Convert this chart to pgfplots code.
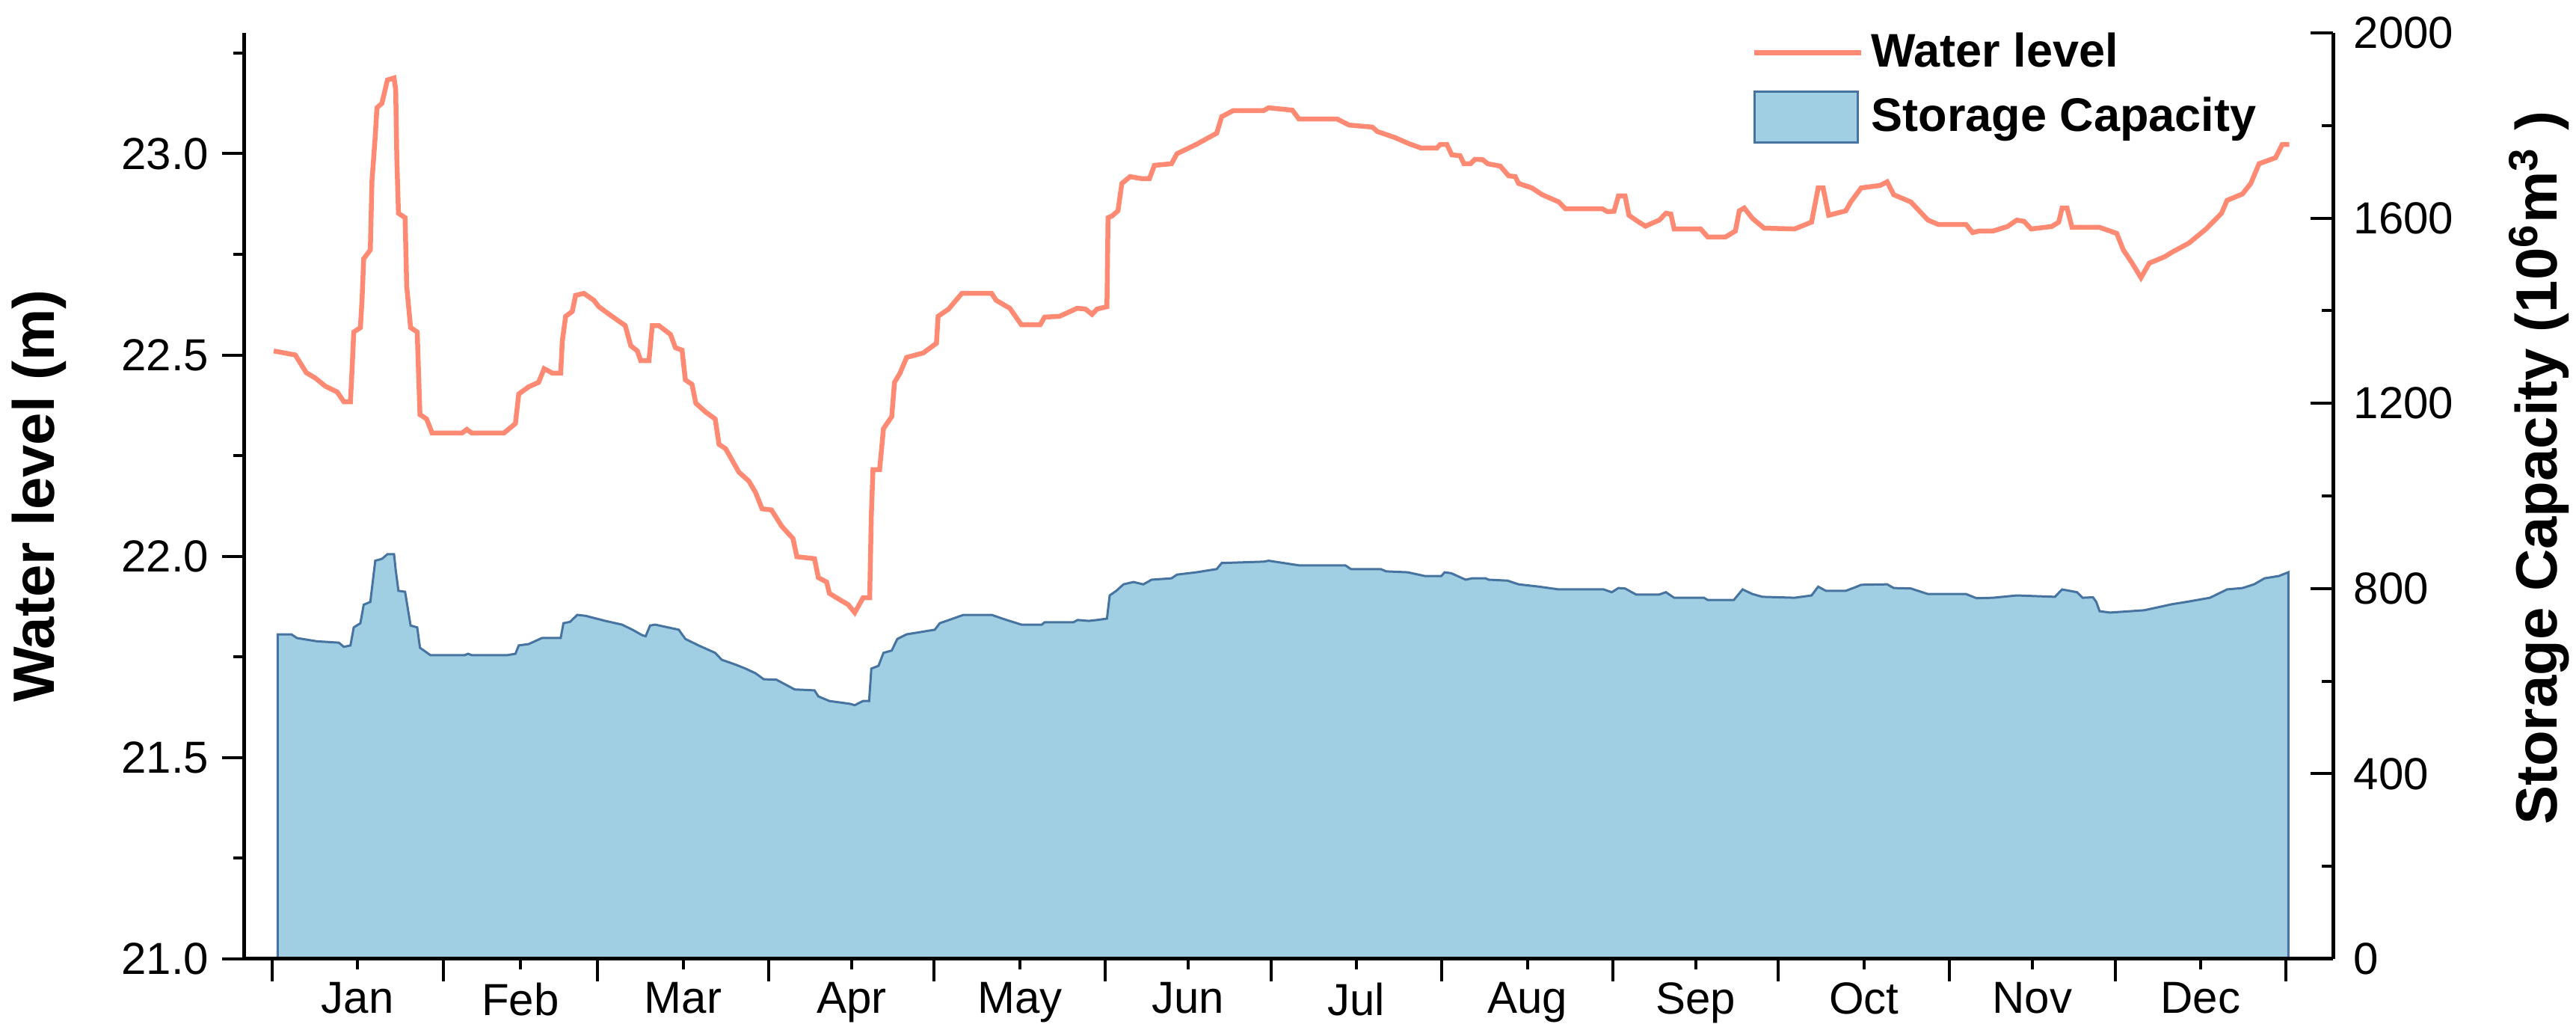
\documentclass[border=0pt]{standalone}
\usepackage{fontspec}
\setmainfont{Liberation Sans}
\usepackage{pgfplots}
\pgfplotsset{compat=1.18}
\definecolor{wl}{RGB}{255,138,115}
\definecolor{scfill}{RGB}{160,206,226}
\definecolor{scline}{RGB}{70,115,160}
\pgfplotsset{
  wllegend/.style={legend image code/.code={\draw[##1] (0pt,0pt) -- (28.6pt,0pt);}},
  sclegend/.style={legend image code/.code={\draw[##1] (0pt,-6.8pt) rectangle (27.6pt,6.8pt);}},
}
\begin{document}
\begin{tikzpicture}
\begin{axis}[
  name=ax1,
  scale only axis, width=558.6pt, height=247.6pt,
  xmin=-5, xmax=373.5, ymin=0, ymax=2000,
  axis x line=none, axis y line*=right,
  ytick={0,400,...,2000}, minor ytick={200,600,...,1800},
  tick align=inside,
  major tick length=6pt, minor tick length=3pt,
  every tick/.style={black, line width=0.8pt},
  axis line style={line width=1pt},
  yticklabel style={font=\fontsize{12}{14}\selectfont, /pgf/number format/assume math mode=true, /pgf/number format/1000 sep={}, xshift=2pt},
  ylabel={\textbf{Storage Capacity (10\textsuperscript{6}m\textsuperscript{3} )}},
  ylabel style={font=\fontsize{15.6}{18}\selectfont, at={(axis description cs:1.0988,0.53)}, anchor=center},
]
\addplot[draw=scline, fill=scfill, line width=0.6pt] coordinates {
(1.0,0) (1.0,701) (3.5,701) (4.5,693) (8.1,686) (12.1,683) (13.0,674) (14.2,677) (14.8,716) (16.0,725) (16.6,765) (17.8,771) (18.7,860) (19.9,864) (20.9,874) (22.1,874) (22.4,840) (22.9,795) (24.1,793) (25.1,720) (26.3,716) (26.8,672) (28.7,656) (34.9,656) (35.5,659) (36.2,656) (42.6,656) (44.1,659) (44.7,677) (46.5,680) (48.9,693) (52.3,693) (52.8,725) (54.0,728) (55.3,743) (56.8,741) (60.4,730) (63.4,722) (65.3,711) (67.1,699) (67.7,697) (68.5,720) (69.4,722) (73.7,711) (74.9,691) (77.3,677) (80.3,661) (81.5,646) (83.9,636) (85.8,627) (87.6,617) (89.1,604) (91.4,603) (94.7,582) (98.3,580) (99.0,567) (101.0,557) (104.7,551) (105.6,548) (107.1,557) (108.2,557) (108.6,627) (109.9,633) (110.8,661) (112.3,666) (113.3,691) (115.0,701) (120.1,711) (121.0,725) (123.4,735) (125.3,743) (130.4,743) (133.1,732) (135.8,722) (139.5,722) (140.0,727) (145.2,727) (146.0,732) (148.0,730) (149.5,732) (151.3,735) (151.8,785) (153.0,795) (154.3,809) (156.1,814) (157.9,809) (159.4,819) (163.0,822) (164.0,830) (167.5,835) (171.2,842) (172.1,855) (179.7,858) (180.6,860) (186.1,850) (194.5,850) (195.5,842) (200.9,842) (201.9,837) (205.8,835) (208.9,827) (211.9,827) (212.5,835) (213.7,833) (216.3,819) (217.5,822) (219.9,822) (220.5,819) (223.9,817) (225.9,809) (229.6,804) (233.2,798) (241.3,798) (242.8,792) (244.0,801) (245.2,800) (247.2,787) (251.4,787) (252.6,792) (254.1,780) (259.5,780) (260.2,775) (264.9,775) (266.5,798) (268.3,788) (270.1,782) (275.9,780) (279.0,785) (280.2,804) (281.6,795) (285.2,795) (287.2,804) (288.0,808) (292.7,809) (293.9,801) (297.0,800) (300.1,788) (307.0,788) (308.9,779) (311.9,780) (316.2,785) (323.1,782) (324.4,798) (327.1,792) (328.1,780) (330.0,781) (330.6,771) (331.2,751) (333.1,748) (339.3,753) (344.3,766) (347.4,772) (351.2,780) (354.3,798) (357.1,801) (359.2,809) (361.1,822) (363.7,827) (365.4,835) (365.4,0)
} -- cycle;
\end{axis}
\begin{axis}[
  name=ax,
  scale only axis, width=558.6pt, height=247.6pt,
  xmin=-5, xmax=373.5, ymin=21, ymax=23.3,
  axis x line*=bottom, axis y line*=left,
  tick align=outside,
  major tick length=6pt, minor tick length=3pt,
  every tick/.style={black, line width=0.8pt},
  axis line style={line width=1pt},
  xtick={0,31,59,90,120,151,181,212,243,273,304,334,365},
  xticklabels={},
  extra x ticks={15.5,45,74.5,105,135.5,166,196.5,227.5,258,288.5,319,349.5},
  extra x tick labels={Jan,Feb,Mar,Apr,May,Jun,Jul,Aug,Sep,Oct,Nov,Dec},
  extra x tick style={major tick length=2.8pt},
  ytick={21,21.5,...,23}, minor ytick={21.25,21.75,...,23.25},
  tick label style={font=\fontsize{12}{14}\selectfont},
  yticklabel style={/pgf/number format/assume math mode=true, /pgf/number format/fixed, /pgf/number format/fixed zerofill, /pgf/number format/precision=1},
  ylabel={\textbf{Water level (m)}},
  ylabel style={font=\fontsize{15.6}{18}\selectfont, at={(axis description cs:-0.0985,0.5)}, anchor=center},
  legend style={at={(axis description cs:0.7215,1.0)}, anchor=north west, yshift=2.2pt, draw=none, fill=none, inner sep=0pt, font=\bfseries\fontsize{12.6}{15}\selectfont, row sep=2.5pt},
  legend cell align=left,
]
\addplot[color=wl, line width=1.3pt, wllegend] coordinates {
(0.3,22.51) (4.2,22.50) (6.2,22.456) (7.8,22.443) (9.6,22.423) (11.8,22.408) (13.0,22.384) (14.2,22.384) (14.5,22.466) (14.8,22.557) (16.0,22.568) (16.3,22.636) (16.6,22.739) (17.8,22.761) (18.1,22.932) (18.7,23.045) (19.0,23.114) (19.9,23.125) (20.9,23.183) (22.1,23.188) (22.4,23.159) (22.6,22.99) (22.9,22.852) (24.1,22.841) (24.4,22.67) (25.1,22.568) (26.3,22.557) (26.6,22.432) (26.8,22.352) (28.0,22.341) (29.0,22.306) (34.4,22.306) (35.3,22.315) (36.2,22.306) (42.0,22.306) (43.5,22.323) (44.1,22.33) (44.7,22.403) (46.5,22.421) (48.3,22.432) (49.3,22.466) (50.8,22.455) (52.3,22.455) (52.6,22.535) (53.2,22.596) (54.4,22.608) (55.0,22.648) (56.5,22.653) (58.3,22.636) (59.2,22.62) (61.6,22.596) (64.0,22.573) (65.0,22.523) (66.2,22.51) (66.8,22.486) (68.3,22.486) (68.9,22.573) (70.1,22.573) (72.2,22.551) (73.1,22.518) (74.3,22.512) (74.9,22.438) (76.1,22.427) (76.8,22.38) (78.6,22.358) (80.3,22.341) (81.0,22.278) (82.2,22.267) (84.6,22.209) (86.4,22.187) (87.6,22.159) (88.8,22.118) (90.5,22.115) (92.4,22.074) (94.4,22.044) (95.1,21.999) (98.3,21.994) (99.0,21.947) (100.5,21.936) (101.0,21.908) (102.9,21.892) (104.4,21.88) (105.6,21.86) (107.1,21.897) (108.3,21.897) (108.6,22.102) (108.9,22.215) (110.1,22.215) (110.8,22.317) (112.3,22.347) (112.8,22.432) (113.8,22.455) (115.0,22.494) (118.0,22.505) (120.4,22.529) (120.7,22.596) (122.6,22.614) (125.0,22.653) (130.4,22.653) (131.2,22.636) (133.7,22.616) (135.8,22.575) (139.2,22.575) (140.0,22.594) (142.7,22.596) (145.9,22.616) (147.4,22.614) (148.6,22.601) (149.5,22.614) (151.3,22.62) (151.5,22.841) (152.2,22.845) (153.3,22.858) (154.0,22.926) (155.5,22.943) (157.6,22.938) (159.0,22.938) (159.9,22.971) (163.0,22.975) (164.0,23.0) (167.5,23.023) (171.2,23.051) (172.1,23.092) (174.2,23.107) (179.7,23.107) (180.6,23.114) (184.9,23.108) (186.1,23.086) (193.0,23.086) (195.2,23.071) (199.4,23.066) (200.3,23.055) (203.5,23.04) (206.0,23.025) (208.2,23.014) (211.1,23.014) (211.7,23.023) (212.9,23.023) (213.8,22.997) (215.3,22.995) (216.0,22.975) (217.2,22.975) (218.0,22.986) (219.4,22.985) (220.3,22.975) (222.6,22.969) (224.1,22.945) (225.3,22.943) (225.9,22.926) (228.3,22.915) (230.2,22.898) (233.2,22.88) (234.4,22.863) (241.1,22.863) (242.0,22.856) (243.2,22.857) (244.0,22.895) (245.2,22.895) (245.9,22.847) (247.7,22.83) (248.9,22.82) (251.4,22.835) (252.6,22.852) (253.5,22.85) (254.1,22.813) (258.9,22.813) (260.2,22.793) (263.4,22.793) (265.2,22.808) (265.9,22.858) (266.8,22.865) (268.3,22.839) (270.4,22.815) (275.9,22.813) (279.0,22.83) (280.2,22.915) (281.1,22.915) (282.1,22.847) (285.2,22.858) (286.1,22.88) (288.0,22.915) (291.4,22.921) (292.7,22.93) (293.9,22.898) (297.0,22.88) (300.1,22.835) (302.0,22.824) (307.0,22.824) (308.2,22.804) (309.4,22.808) (311.9,22.808) (314.5,22.819) (316.2,22.835) (317.5,22.832) (318.8,22.813) (322.5,22.819) (323.8,22.83) (324.4,22.865) (325.3,22.865) (326.2,22.817) (331.2,22.817) (334.3,22.802) (335.5,22.761) (337.1,22.728) (338.7,22.692) (340.2,22.728) (343.0,22.744) (344.3,22.755) (347.4,22.778) (350.5,22.813) (353.3,22.852) (354.3,22.884) (357.1,22.9) (358.6,22.926) (360.1,22.975) (363.1,22.99) (364.3,23.023) (365.6,23.023)
};
\addlegendentry{Water level}
\addlegendimage{draw=scline, fill=scfill, line width=0.6pt, sclegend}
\addlegendentry{Storage Capacity}
\end{axis}
\pgfresetboundingbox
\path[use as bounding box] ([xshift=-65.4pt,yshift=-19.8pt]ax.south west) rectangle ([xshift=65pt,yshift=8.8pt]ax.north east);
\end{tikzpicture}
\end{document}
